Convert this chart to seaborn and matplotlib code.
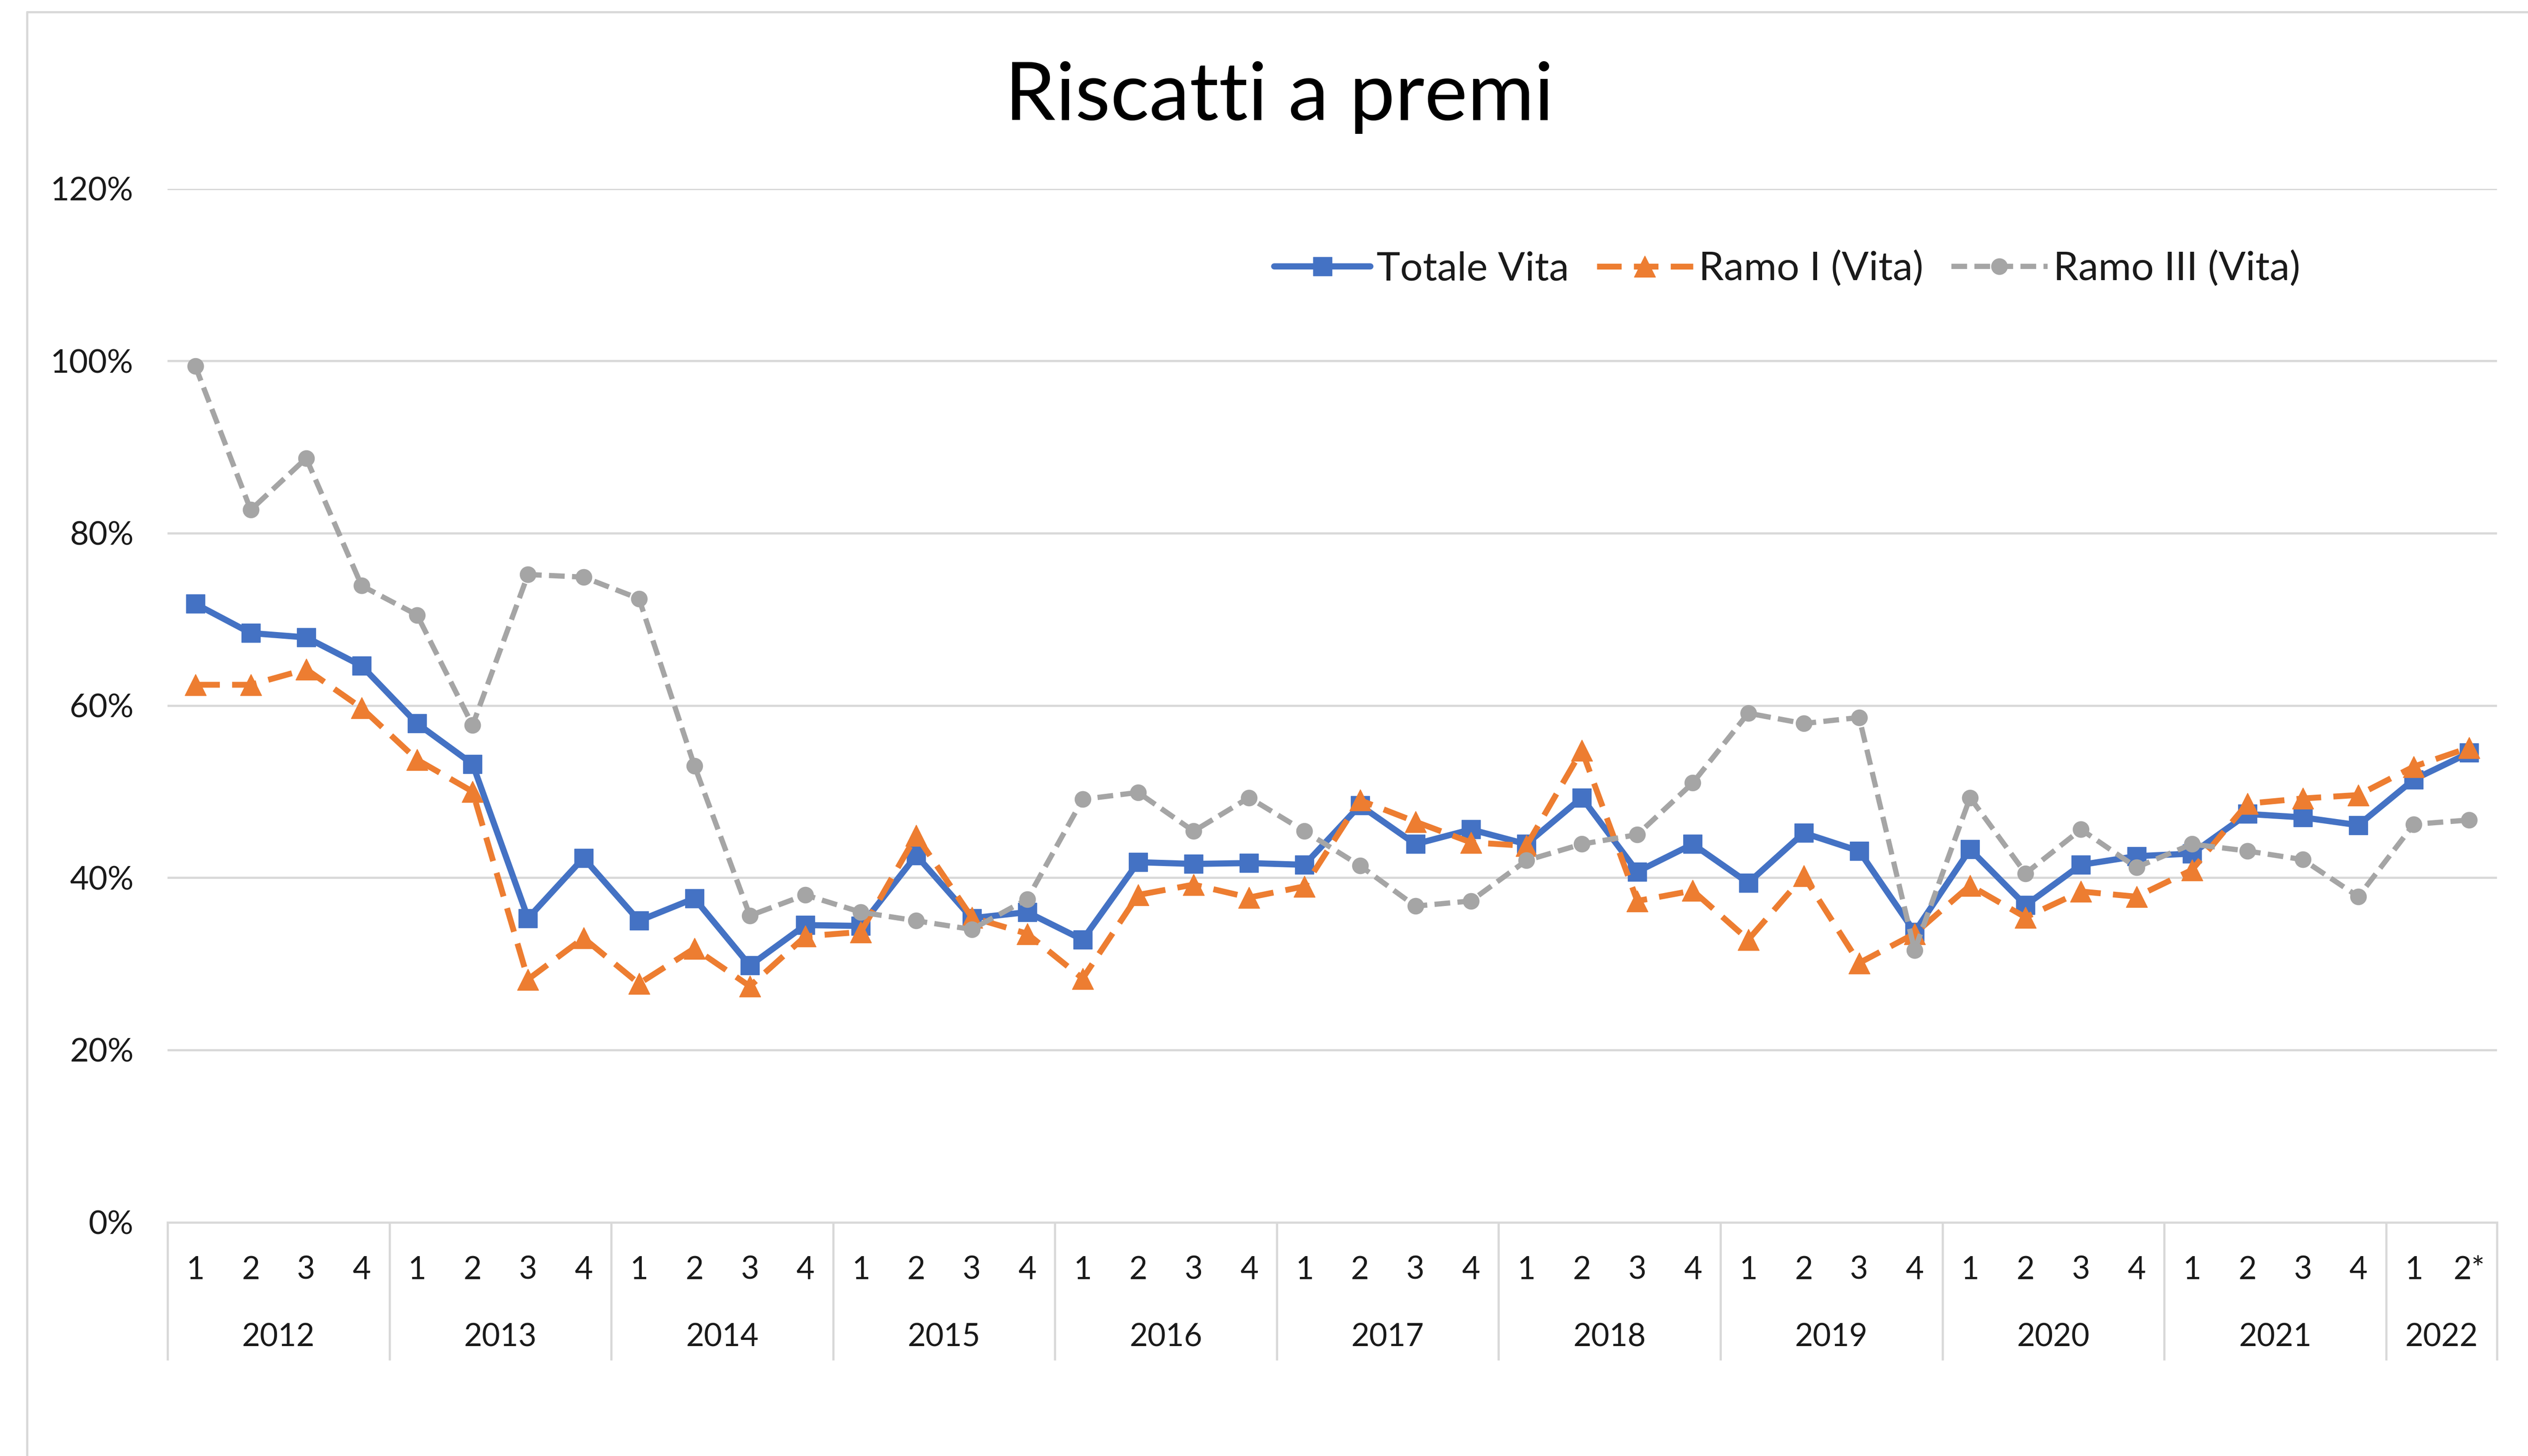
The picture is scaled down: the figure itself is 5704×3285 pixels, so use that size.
import numpy as np
import pandas as pd
import matplotlib
matplotlib.use("Agg")
import matplotlib.pyplot as plt
from matplotlib.lines import Line2D
import seaborn as sns

# ---------------- data ----------------
years = ["2012", "2013", "2014", "2015", "2016", "2017", "2018", "2019", "2020", "2021", "2022"]
quarters = ["1", "2", "3", "4"] * 10 + ["1", "2*"]

totale_vita = [71.8, 68.4, 67.9, 64.6, 57.9, 53.2, 35.3, 42.3, 35.0, 37.6, 29.8, 34.5,
               34.4, 42.6, 35.3, 36.0, 32.8, 41.8, 41.6, 41.7, 41.5, 48.4, 43.9, 45.6,
               43.9, 49.3, 40.7, 43.9, 39.4, 45.2, 43.1, 33.7, 43.3, 36.8, 41.5, 42.5,
               42.8, 47.4, 47.0, 46.1, 51.4, 54.5]
ramo_i = [62.4, 62.4, 64.2, 59.7, 53.7, 50.0, 28.2, 33.0, 27.7, 31.8, 27.4, 33.2,
          33.7, 44.9, 35.4, 33.5, 28.3, 38.0, 39.2, 37.7, 39.0, 49.0, 46.5, 44.1,
          43.7, 54.8, 37.3, 38.5, 32.8, 40.2, 30.1, 33.5, 39.1, 35.4, 38.4, 37.8,
          40.9, 48.6, 49.2, 49.6, 52.9, 55.1]
ramo_iii = [99.4, 82.7, 88.7, 73.9, 70.5, 57.7, 75.2, 74.9, 72.4, 53.0, 35.6, 38.0,
            36.0, 35.0, 34.0, 37.5, 49.1, 49.9, 45.4, 49.3, 45.4, 41.4, 36.7, 37.3,
            42.0, 43.9, 45.0, 51.0, 59.1, 57.9, 58.6, 31.6, 49.3, 40.5, 45.6, 41.2,
            43.9, 43.1, 42.1, 37.8, 46.2, 46.7]
series_names = ["Totale Vita", "Ramo I (Vita)", "Ramo III (Vita)"]
y_ticks = [0, 0.2, 0.4, 0.6, 0.8, 1.0, 1.2]

idx = np.arange(len(quarters))
df = pd.DataFrame({"idx": idx,
                   series_names[0]: np.array(totale_vita) / 100,
                   series_names[1]: np.array(ramo_i) / 100,
                   series_names[2]: np.array(ramo_iii) / 100})

# ---------------- style ----------------
sns.set_theme(style="white")
plt.rcParams["font.family"] = ["Lato", "DejaVu Sans"]

BLUE = "#4472C4"
ORANGE = "#ED7D31"
GRAY = "#A5A5A5"
GRID = "#D9D9D9"
TXT = "#1a1a1a"

W, H = 5704, 3285
fig = plt.figure(figsize=(W / 100, H / 100), dpi=100)
fig.patch.set_facecolor("white")

ax_l, ax_r = 378 / W, 5634 / W
ax_b, ax_t = 1 - 2757.6 / H, 1 - 425.6 / H
ax = fig.add_axes([ax_l, ax_b, ax_r - ax_l, ax_t - ax_b])
ax.set_facecolor("white")

styles = [
    dict(color=BLUE, marker="s", markersize=30, linewidth=10.0, linestyle="-"),
    dict(color=ORANGE, marker="^", markersize=34, linewidth=9.5, linestyle=(0, (4.2, 2.1))),
    dict(color=GRAY, marker="o", markersize=26, linewidth=8.5, linestyle=(0, (3.0, 1.4))),
]
for name, st in zip(series_names, styles):
    sns.lineplot(data=df, x="idx", y=name, ax=ax, label=name,
                 color=st["color"], marker=st["marker"], markersize=st["markersize"],
                 linewidth=st["linewidth"], linestyle=st["linestyle"],
                 markeredgecolor=st["color"], markeredgewidth=1, legend=False)

ax.set_xlim(-0.5, len(quarters) - 0.5)
ax.set_ylim(0, 1.2)
ax.set_yticks(y_ticks)
ax.set_yticklabels([f"{v:.0%}" for v in y_ticks])
ax.yaxis.grid(True, color=GRID, linewidth=3.6)
ax.set_axisbelow(True)
ax.tick_params(axis="y", length=0, pad=55, labelsize=53, labelcolor=TXT)
ax.set_xticks([])
ax.set_xlabel("")
ax.set_ylabel("")
for s in ["left", "right", "top"]:
    ax.spines[s].set_visible(False)
ax.spines["bottom"].set_color(GRID)
ax.spines["bottom"].set_linewidth(3.6)

# multi-level category axis
trans = ax.get_xaxis_transform()
ax_h_px = 2757.6 - 425.6
q_base = -(2886 - 2757.6) / ax_h_px
y_base = -(3037 - 2757.6) / ax_h_px
sep_bottom = -(3069 - 2757.6) / ax_h_px
for i, q in enumerate(quarters):
    ax.text(i, q_base, q, transform=trans, ha="center", va="baseline",
            fontsize=51, color=TXT)
starts = list(range(0, len(quarters), 4))
for k, yr in enumerate(years):
    s = starts[k]
    e = min(s + 4, len(quarters))
    ax.text((s + e - 1) / 2, y_base, yr, transform=trans, ha="center",
            va="baseline", fontsize=51, color=TXT)
sep_x = [s - 0.5 for s in starts] + [len(quarters) - 0.5]
ax.vlines(sep_x, sep_bottom, 0, transform=trans, colors=GRID, linewidth=3.6,
          clip_on=False)

# title
fig.text(2886 / W, 1 - 271 / H, "Riscatti a premi", ha="center", va="baseline",
         fontsize=132, color="black")

# legend
handles, labels = ax.get_legend_handles_labels()
leg = fig.legend(handles, labels, loc="center",
                 bbox_to_anchor=(4033 / W, 1 - 607 / H), ncol=3, frameon=False,
                 fontsize=65, handlelength=2.4, handletextpad=0.15,
                 columnspacing=0.7, numpoints=1)
for t in leg.get_texts():
    t.set_color(TXT)

# chart-area border (left and top edges visible in the reference)
fig.add_artist(Line2D([61 / W, 61 / W], [0, 1 - 27 / H], color=GRID, linewidth=3.6,
                      transform=fig.transFigure))
fig.add_artist(Line2D([61 / W, 1], [1 - 27 / H, 1 - 27 / H], color=GRID, linewidth=3.6,
                      transform=fig.transFigure))

fig.savefig("out.png", dpi=100, facecolor="white")
